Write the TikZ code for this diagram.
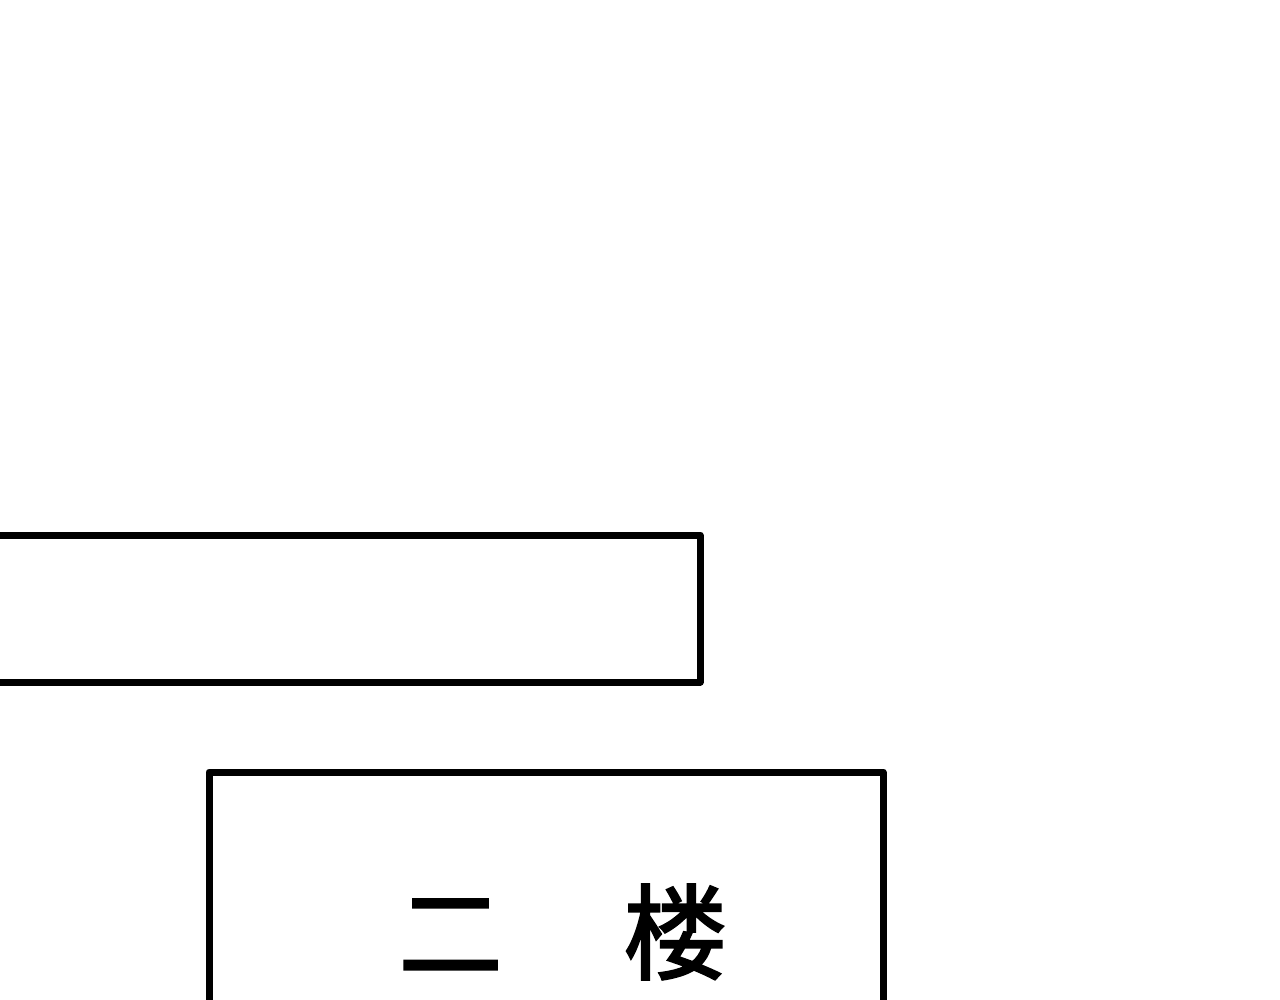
\documentclass[tikz,border=0pt]{standalone}
\usepackage{fontspec}
\newfontfamily\cjk[BoldFont={Noto Sans CJK SC}, BoldFeatures={FakeBold=2}]{Noto Sans CJK SC}
\begin{document}
\begin{tikzpicture}[
    x=1pt, y=-1pt,
    wall/.style={line width=7pt, line join=round, black}
]
\useasboundingbox (0,0) rectangle (1280,999);
\clip (0,0) rectangle (1280,999);

% Upper block
\draw[wall] (-20,535) -- (700,535) -- (700,682) -- (-20,682);

% Second floor block
\draw[wall] (209,1020) -- (209,772) -- (883,772) -- (883,1020);

% Label
\node[font=\cjk\bfseries\fontsize{104}{104}\selectfont, inner sep=0pt] (floorlabel) at (563,932) {二\hspace{17pt}　楼};

\end{tikzpicture}
\end{document}
